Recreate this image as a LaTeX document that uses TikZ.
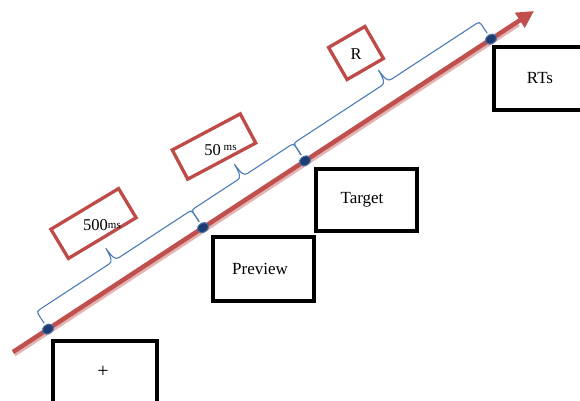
\documentclass[tikz,border=0pt]{standalone}
\usepackage{fontspec}
\setmainfont{Liberation Serif}
\usetikzlibrary{calc,arrows.meta,decorations,shapes.geometric}

% bracket drawn on the left side of a path: two short legs and a pointed middle
\pgfdeclaredecoration{timebrace}{draw}{%
  \state{draw}[width=+\pgfdecoratedremainingdistance,next state=final]{%
    \pgfpathmoveto{\pgfqpoint{0pt}{7pt}}%
    \pgfpathlineto{\pgfqpoint{0pt}{17.5pt}}%
    \pgfpathcurveto{\pgfqpoint{0pt}{20.5pt}}{\pgfqpoint{1pt}{21pt}}{\pgfqpoint{4pt}{21pt}}%
    {%
      \pgftransformxshift{+.5\pgfdecoratedremainingdistance}%
      \pgfpathlineto{\pgfqpoint{-6pt}{21pt}}%
      \pgfpathcurveto{\pgfqpoint{-1.5pt}{21pt}}{\pgfqpoint{-0.5pt}{25pt}}{\pgfqpoint{0pt}{36pt}}%
      \pgfpathcurveto{\pgfqpoint{0.5pt}{25pt}}{\pgfqpoint{1.5pt}{21pt}}{\pgfqpoint{6pt}{21pt}}%
    }%
    {%
      \pgftransformxshift{+\pgfdecoratedremainingdistance}%
      \pgfpathlineto{\pgfqpoint{-4pt}{21pt}}%
      \pgfpathcurveto{\pgfqpoint{-1pt}{21pt}}{\pgfqpoint{0pt}{20.5pt}}{\pgfqpoint{0pt}{17.5pt}}%
      \pgfpathlineto{\pgfqpoint{0pt}{7pt}}%
    }%
  }%
  \state{final}{\pgfpathmoveto{\pgfpointdecoratedpathlast}}%
}

\definecolor{axisred}{HTML}{C0504D}
\definecolor{shadowred}{HTML}{E3B4B2}
\definecolor{dotblue}{HTML}{1F3C6E}
\definecolor{dotrim}{HTML}{4A72AE}
\definecolor{bracecol}{HTML}{4B7DB5}
\definecolor{labelred}{HTML}{BE4B48}

\tikzset{
  axis/.style={line width=4.5pt, axisred, -{Triangle[length=17pt,width=17pt]}},
  axisshadow/.style={line width=6.5pt, shadowred},
  tdot/.style={ellipse, fill=dotblue, draw=dotrim, line width=1pt,
    minimum width=12pt, minimum height=9pt, inner sep=0pt, rotate=33.18},
  brc/.style={draw=bracecol, line width=1.1pt, decorate, decoration={timebrace}},
  redbox/.style={draw=labelred, line width=3.3pt, inner sep=0pt},
  lbl/.style={inner sep=0pt, font=\fontsize{16.5}{18}\selectfont},
  stimbox/.style={draw=black, line width=3.2pt, inner sep=0pt,
    font=\fontsize{17}{19}\selectfont}
}
\newcommand{\unitms}{{\fontsize{11}{11}\selectfont ms}}

\begin{document}
\begin{tikzpicture}[x=1pt,y=1pt]
\clip (0,0) rectangle (580,400);
\fill[white] (0,0) rectangle (580,400);

% time axis
\coordinate (start) at (13,48);
\coordinate (end) at (534,389);
\draw[axisshadow] ($(start)+(0.8,-1.5)$) -- ($(end)!20pt!(start)+(0.8,-1.5)$);
\draw[axis] (start) -- (end);

% event markers on the axis
\node[tdot] (d1) at ($(start)!0.0672!(end)$) {};
\node[tdot] (d2) at ($(start)!0.3647!(end)$) {};
\node[tdot] (d3) at ($(start)!0.5605!(end)$) {};
\node[tdot] (d4) at ($(start)!0.9175!(end)$) {};

% interval brackets
\draw[brc] (d1.center) -- (d2.center);
\draw[brc] (d2.center) -- (d3.center);
\draw[brc] (d3.center) -- (d4.center);

% interval labels
\node[redbox, minimum width=79pt, minimum height=34pt, rotate=31] (b1) at (93.5,176.5) {};
\node[lbl] (t1) at (102,175) {500\raisebox{1.5pt}{\unitms}};
\node[redbox, minimum width=77pt, minimum height=33pt, rotate=28] (b2) at (214,253.5) {};
\node[lbl] (t2) at (220.5,250) {50\,\raisebox{5pt}{\unitms}};
\node[redbox, minimum width=42pt, minimum height=37pt, rotate=30] (b3) at (356,347) {};
\node[lbl] (t3) at (356,345.5) {R};

% stimulus screens
\node[stimbox, minimum width=104pt, minimum height=72pt] (fix) at (105,23) {};
\node[font=\fontsize{20}{20}\selectfont, inner sep=0pt] (plus) at (103,28) {+};
\node[stimbox, minimum width=101pt, minimum height=64pt] (prev) at (263.5,131) {};
\node[stimbox, draw=none] (prevtxt) at (260,131.5) {Preview};
\node[stimbox, minimum width=101pt, minimum height=62pt] (targ) at (366.5,200) {};
\node[stimbox, draw=none] (targtxt) at (362,200) {Target};
\node[stimbox, minimum width=96pt, minimum height=63pt] (rts) at (542,321.5) {};
\node[stimbox, draw=none] (rtstxt) at (540,322) {RTs};
\end{tikzpicture}
\end{document}
